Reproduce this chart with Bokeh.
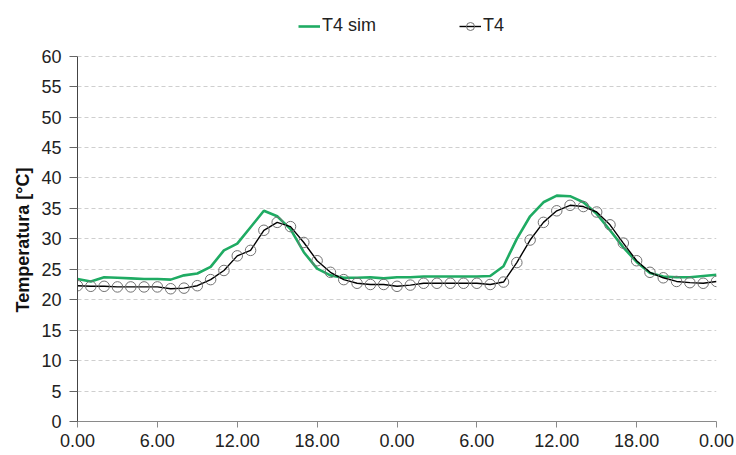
from bokeh.plotting import figure
from bokeh.models import FixedTicker, Legend, LegendItem, Range1d, Title
from bokeh.embed import file_html
from bokeh.resources import INLINE

hours = list(range(49))
t4_sim = [23.4, 23.0, 23.7, 23.6, 23.5, 23.4, 23.4, 23.3, 24.0, 24.3,
          25.4, 28.1, 29.2, 31.9, 34.6, 33.7, 31.6, 27.8, 25.1, 24.0,
          23.6, 23.6, 23.7, 23.5, 23.7, 23.7, 23.8, 23.8, 23.8, 23.8,
          23.8, 23.9, 25.5, 30.0, 33.7, 36.0, 37.1, 37.0, 36.0, 34.1,
          31.4, 28.6, 26.2, 24.4, 23.8, 23.7, 23.7, 23.9, 24.1]
t4 = [22.3, 22.2, 22.2, 22.1, 22.1, 22.1, 22.1, 21.8, 21.9, 22.3,
      23.3, 24.8, 27.2, 28.1, 31.4, 32.7, 32.0, 29.4, 26.4, 24.5,
      23.3, 22.7, 22.5, 22.5, 22.2, 22.4, 22.7, 22.7, 22.7, 22.7,
      22.7, 22.5, 22.9, 26.1, 29.8, 32.7, 34.6, 35.5, 35.3, 34.4,
      32.3, 29.3, 26.4, 24.5, 23.6, 23.0, 22.8, 22.7, 23.0]
x_ticks = [0, 6, 12, 18, 24, 30, 36, 42, 48]
x_tick_labels = ["0.00", "6.00", "12.00", "18.00", "0.00", "6.00", "12.00", "18.00", "0.00"]
y_ticks = list(range(0, 61, 5))
series_names = ["T4 sim", "T4"]
y_title = "Temperatura [°C]"

FONT = "Liberation Sans"
GREEN = "#1fab63"

# y range reaches above 60 so the legend fits inside the (invisible) frame
p = figure(width=736, height=455, output_backend="svg", toolbar_location=None,
           x_range=Range1d(0, 48), y_range=Range1d(0, 67),
           min_border_left=77, min_border_right=20, min_border_top=13, min_border_bottom=34)
p.outline_line_color = None
p.background_fill_color = "white"
p.border_fill_color = "white"

r_sim = p.line(hours, t4_sim, line_color=GREEN, line_width=2.6)
r_line = p.line(hours, t4, line_color="black", line_width=1.4)
r_circ = p.scatter(hours, t4, marker="circle", size=10.5, fill_color=None,
                   line_color="#727272", line_width=1.0)

xa = p.xaxis[0]
xa.ticker = FixedTicker(ticks=x_ticks)
xa.major_label_overrides = {t: l for t, l in zip(x_ticks, x_tick_labels)}
xa.minor_tick_line_color = None
xa.major_tick_out = 6
xa.major_tick_in = 0
xa.major_label_standoff = 6
xa.axis_line_color = "#8a8a8a"
xa.major_tick_line_color = "#8a8a8a"
xa.major_label_text_font = FONT
xa.major_label_text_font_size = "18px"
xa.major_label_text_color = "#222222"

ya = p.yaxis[0]
ya.ticker = FixedTicker(ticks=y_ticks)
ya.bounds = (0, 60)
ya.minor_tick_line_color = None
ya.major_tick_out = 8
ya.major_tick_in = 0
ya.major_label_standoff = 8
ya.axis_line_color = "#444444"
ya.major_tick_line_color = "#666666"
ya.major_label_text_font = FONT
ya.major_label_text_font_size = "18px"
ya.major_label_text_color = "#222222"

# y-axis title as a side title so it can be centred on the 0-60 span
ytitle = Title(text=y_title, align="left", offset=109, vertical_align="middle",
               standoff=10, text_font=FONT, text_font_size="18px",
               text_font_style="bold", text_color="#111111")
p.add_layout(ytitle, "left")

p.xgrid.grid_line_color = None
p.ygrid.ticker = FixedTicker(ticks=y_ticks)
p.ygrid.grid_line_color = "#cfcfcf"
p.ygrid.grid_line_dash = "4 3"
p.ygrid.grid_line_width = 1

legend = Legend(items=[LegendItem(label=series_names[0], renderers=[r_sim]),
                       LegendItem(label=series_names[1], renderers=[r_line, r_circ])],
                orientation="horizontal", location=(221, 385),
                glyph_width=22, glyph_height=20, label_height=20,
                label_standoff=2, spacing=83, padding=0, margin=0,
                border_line_color=None, background_fill_alpha=0,
                label_text_font=FONT, label_text_font_size="18px",
                label_text_color="#222222")
p.add_layout(legend, "center")

open("out.html", "w").write(file_html(p, INLINE))
